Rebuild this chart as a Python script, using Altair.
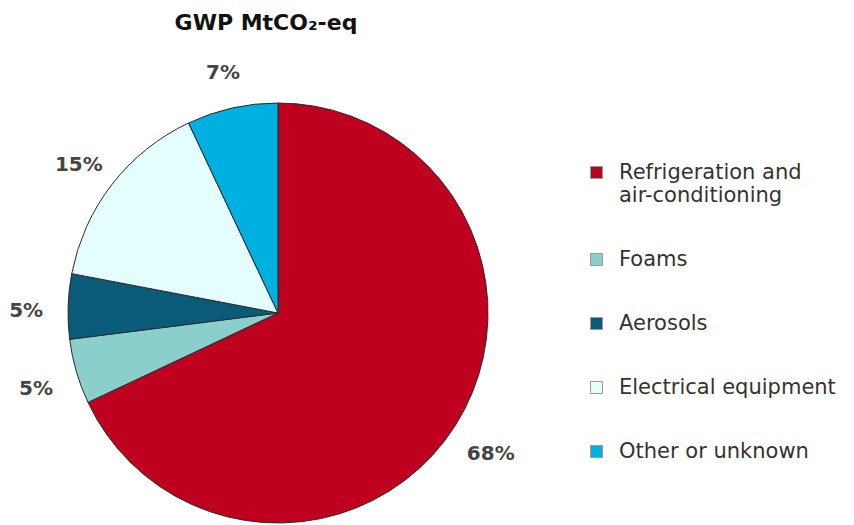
import altair as alt
import pandas as pd

# Share of GWP by end-use sector
sectors = [
    "Refrigeration and air-conditioning",
    "Foams",
    "Aerosols",
    "Electrical equipment",
    "Other or unknown",
]
shares = [68, 5, 5, 15, 7]
colors = ["#C0001F", "#8ACFCC", "#0A5A7A", "#E4FDFD", "#00B0E0"]

df = pd.DataFrame({
    "sector": sectors,
    "share": shares,
    "idx": list(range(len(sectors))),
})
df["label"] = df["share"].astype(str) + "%"

cx, cy = 278, 278  # pie centre inside the plot area

base = alt.Chart(df).encode(
    theta=alt.Theta("share:Q", stack=True),
    order=alt.Order("idx:Q"),
)

pie = base.mark_arc(radius=210, stroke="#2a2a2a", strokeWidth=1).encode(
    x=alt.value(cx),
    y=alt.value(cy),
    color=alt.Color(
        "sector:N",
        scale=alt.Scale(domain=sectors, range=colors),
        sort=sectors,
        legend=alt.Legend(
            title=None,
            orient="none",
            legendX=586,
            legendY=127,
            symbolType="square",
            symbolSize=144,
            symbolStrokeColor="#9a9a9a",
            symbolStrokeWidth=1,
            labelFont="DejaVu Sans",
            labelFontSize=21,
            labelColor="#333333",
            labelOffset=12,
            labelLimit=320,
            rowPadding=42,
            labelExpr="datum.label == 'Refrigeration and air-conditioning' ? ['Refrigeration and', 'air-conditioning'] : datum.label",
        ),
    ),
)

labels = base.mark_text(
    radius=252,
    dy=6,
    font="DejaVu Sans",
    fontSize=20,
    fontWeight="bold",
    color="#454545",
).encode(
    x=alt.value(cx),
    y=alt.value(cy),
    text="label:N",
)

chart = (
    alt.layer(pie, labels)
    .properties(
        width=532,
        height=490,
        title=alt.TitleParams(
            "GWP MtCO₂-eq",
            font="DejaVu Sans",
            fontSize=22,
            fontWeight="bold",
            color="#111111",
            anchor="middle",
            offset=0,
        ),
        padding={"left": 0, "top": 35, "right": 322, "bottom": 0},
        autosize=alt.AutoSizeParams(type="none"),
    )
    .configure_view(stroke=None)
)

chart.save("out.html", embed_options={"renderer": "svg", "actions": False})
